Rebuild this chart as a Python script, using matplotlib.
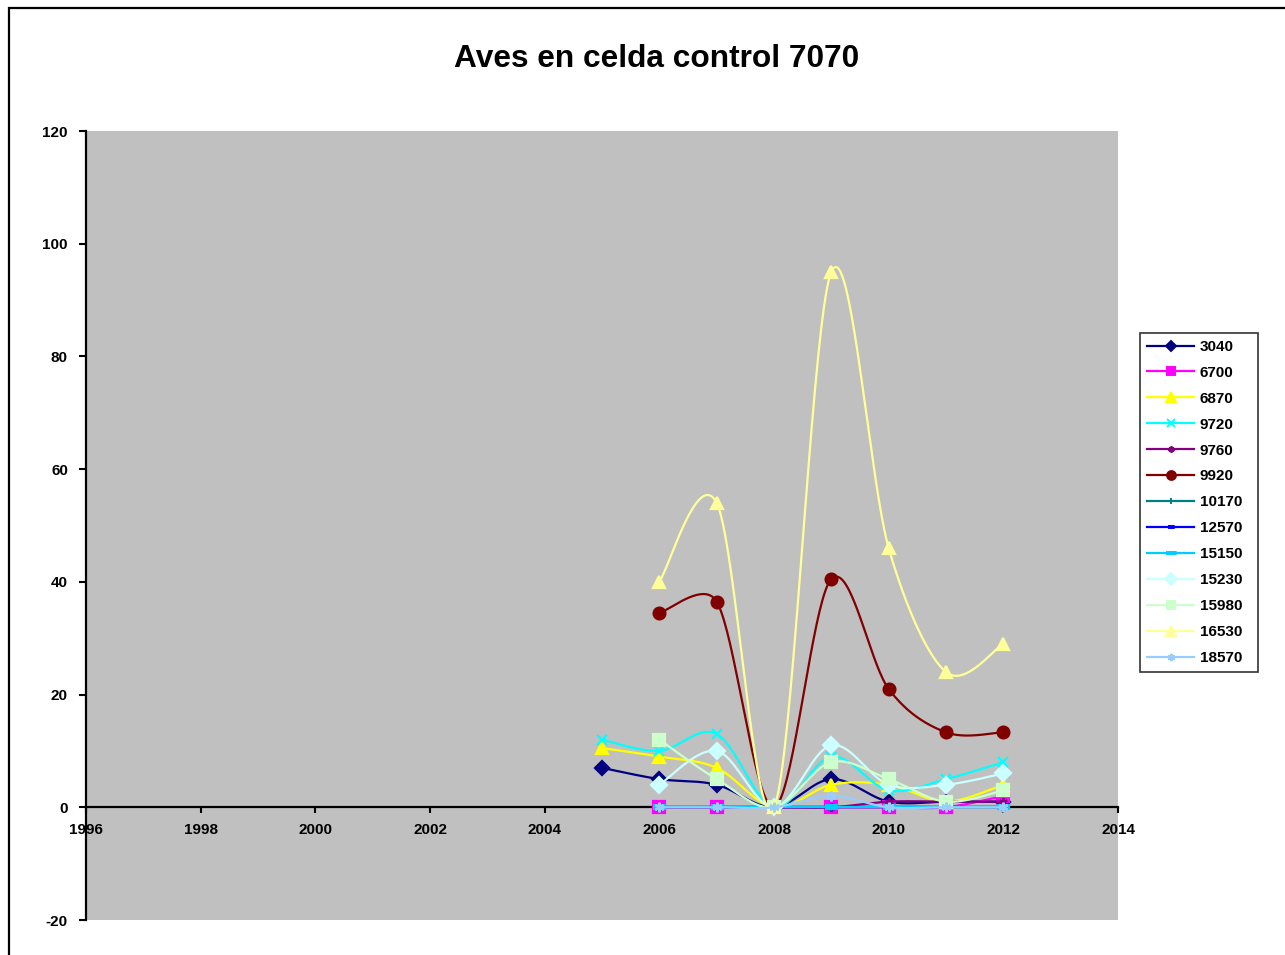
import numpy as np
import matplotlib
matplotlib.use("Agg")
import matplotlib.pyplot as plt
from matplotlib.lines import Line2D
from matplotlib.patches import Rectangle

plt.rcParams['font.family'] = ['Liberation Sans', 'DejaVu Sans']
plt.rcParams['axes.unicode_minus'] = False

nan = np.nan
years = [2005, 2006, 2007, 2008, 2009, 2010, 2011, 2012]

labels = ["3040", "6700", "6870", "9720", "9760", "9920", "10170",
          "12570", "15150", "15230", "15980", "16530", "18570"]

s3040 = [7, 5, 4, 0, 5, 1, 1, 1]
s6700 = [nan, 0, 0, 0, 0, 0, 0, 2]
s6870 = [10.5, 9, 7, 0, 4, 4, 1, 4]
s9720 = [12, 10, 13, 0, 9, 3, 5, 8]
s9760 = [nan, 0, 0, 0, 0, 1, 1, 1]
s9920 = [nan, 34.5, 36.5, 0, 40.5, 21, 13.3, 13.3]
s10170 = [nan, 0, 0, 0, 0, 0, 0, 0]
s12570 = [nan, 0, 0, 0, 0, 0, 0, 0]
s15150 = [nan, 0, 0, 0, 0, 0, 0, 0]
s15230 = [nan, 4, 10, 0, 11, 4, 4, 6]
s15980 = [nan, 12, 5, 0, 8, 5, 1, 3]
s16530 = [nan, 40, 54, 0, 95, 46, 24, 29]
s18570 = [nan, 0, 0, 0, 2, 0, 0, 0]

series = [s3040, s6700, s6870, s9720, s9760, s9920, s10170,
          s12570, s15150, s15230, s15980, s16530, s18570]

colors = ["#000080", "#FF00FF", "#FFFF00", "#00FFFF", "#800080", "#800000",
          "#008080", "#0000FF", "#00CCFF", "#CCFFFF", "#CCFFCC", "#FFFF99",
          "#99CCFF"]

short_bar = [(-1, -0.45), (1, -0.45), (1, 0.45), (-1, 0.45)]
long_bar = [(-1, -0.3), (1, -0.3), (1, 0.3), (-1, 0.3)]
markers = ["D", "s", "^", "x", (6, 2, 0), "o", "+", short_bar, long_bar,
           "D", "s", "^", (6, 2, 0)]
msizes = [7, 8, 9, 7, 6, 8.5, 6, 6, 9, 8, 8.5, 9, 7]


def smooth_curve(ax, xs, ys, steps=40):
    """Bezier smoothing through every point, computed in screen space;
    tangents are 1/6 of the neighbour chord, capped at half a segment."""
    pts = ax.transData.transform(np.column_stack([xs, ys]).astype(float))
    n = len(pts)
    out = []
    t = np.linspace(0, 1, steps)[:, None]

    def capped(vec, limit):
        length = float(np.hypot(*vec))
        if length > limit and length > 0:
            vec = vec * (limit / length)
        return vec

    for i in range(n - 1):
        p0 = pts[max(i - 1, 0)]
        p1 = pts[i]
        p2 = pts[i + 1]
        p3 = pts[min(i + 2, n - 1)]
        half = float(np.hypot(*(p2 - p1))) / 2.0
        c1 = p1 + capped((p2 - p0) / 6.0, half * 0.85)
        c2 = p2 - capped((p3 - p1) / 6.0, half * 0.85)
        seg = ((1 - t) ** 3) * p1 + 3 * ((1 - t) ** 2) * t * c1 \
            + 3 * (1 - t) * t ** 2 * c2 + t ** 3 * p2
        out.append(seg if i == 0 else seg[1:])
    curve = ax.transData.inverted().transform(np.vstack(out))
    return curve[:, 0], curve[:, 1]


fig = plt.figure(figsize=(12.85, 9.55), dpi=100)
ax = fig.add_axes([86 / 1285, 1 - 920 / 955, 1032 / 1285, 789 / 955])
ax.set_facecolor("#C0C0C0")
ax.set_xlim(1996, 2014)
ax.set_ylim(-20, 120)
ax.set_xticks(range(1996, 2015, 2))
ax.set_yticks(range(-20, 121, 20))

handles = []
for k, (lab, vals, col, mk, ms) in enumerate(zip(labels, series, colors, markers, msizes)):
    xs = np.array([x for x, v in zip(years, vals) if not np.isnan(v)], float)
    ys = np.array([v for v in vals if not np.isnan(v)], float)
    cx, cy = smooth_curve(ax, xs, ys)
    z = 3 + k * 0.1
    ax.plot(cx, cy, color=col, lw=1.6, zorder=z, solid_capstyle="round")
    ax.plot(xs, ys, ls="none", marker=mk, ms=ms, color=col,
            markeredgecolor=col, mew=1.6, zorder=z + 0.05, clip_on=False)
    handles.append(Line2D([], [], color=col, lw=1.6, marker=mk,
                          ms=ms * 0.75, markeredgecolor=col, mew=1.4))

for side in ("top", "right"):
    ax.spines[side].set_visible(False)
ax.spines["bottom"].set_position(("data", 0))
ax.spines["bottom"].set_linewidth(1.6)
ax.spines["left"].set_linewidth(1.6)
ax.spines["bottom"].set_zorder(2)

ax.tick_params(axis="y", direction="out", length=5, width=1.5, pad=8,
               labelsize=11)
ax.tick_params(axis="x", direction="out", length=4, width=1.5, pad=7,
               labelsize=11)
for lbl in ax.get_xticklabels() + ax.get_yticklabels():
    lbl.set_fontweight("bold")

fig.text(657 / 1285, 1 - 59 / 955, "Aves en celda control 7070",
         ha="center", va="center", fontsize=22.8, fontweight="bold")

leg = fig.legend(handles, labels, loc="upper left",
                 bbox_to_anchor=(1140 / 1285, 1 - 672 / 955,
                                 118 / 1285, 339 / 955),
                 mode="expand",
                 frameon=True, fancybox=False, numpoints=1,
                 handlelength=3.1, handletextpad=0.35, labelspacing=0.78,
                 borderpad=0.45, borderaxespad=0,
                 prop={"weight": "bold", "size": 11})
leg.get_frame().set_edgecolor("black")
leg.get_frame().set_linewidth(1.2)

# outer chart frame
fig.patches.append(Rectangle((9 / 1285, -0.1), 1.2, 1 - 8 / 955 + 0.1,
                             transform=fig.transFigure, fill=False,
                             edgecolor="black", lw=1.6))

fig.savefig("out.png", dpi=100)
